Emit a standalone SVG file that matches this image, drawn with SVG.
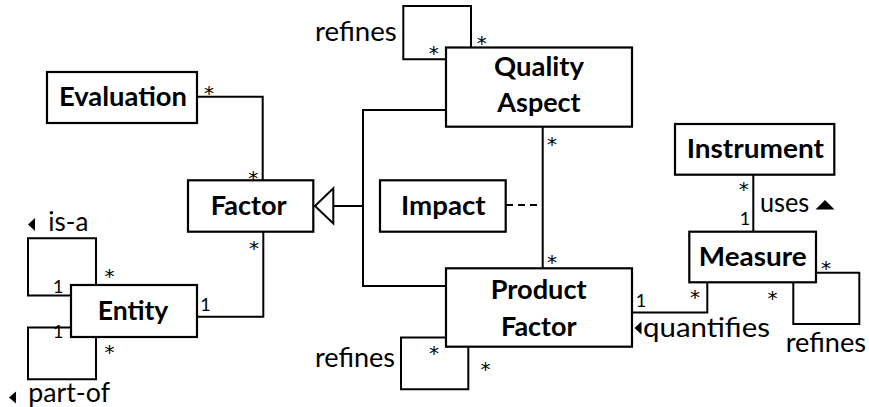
<svg xmlns="http://www.w3.org/2000/svg" width="869" height="407" viewBox="0 0 869 407">
<style>
.box{fill:#fff;stroke:#000;stroke-width:2.2}
.ln{fill:none;stroke:#000;stroke-width:2}
.dash{fill:none;stroke:#000;stroke-width:2;stroke-dasharray:7,5}
.nm{font-family:Lato,"Open Sans",sans-serif;font-weight:bold;font-size:26px;text-anchor:middle;fill:#000}
.lb{font-family:Lato,"Open Sans",sans-serif;font-size:26px;fill:#000}
.m{font-family:Lato,"Open Sans",sans-serif;font-size:18px;text-anchor:middle;fill:#000}
.s{font-family:"DejaVu Sans",sans-serif;font-size:20px;text-anchor:middle;fill:#000}
.tri{fill:#000;stroke:none}
</style>
<rect width="869" height="407" fill="#fff"/>
<g id="connectors">
<polyline class="ln" points="197,96.7 262.7,96.7 262.7,180"/>
<polyline class="ln" points="197,316.7 263.3,316.7 263.3,232"/>
<polyline class="ln" points="96,285 96,238.3 28,238.3 28,295.5 71,295.5"/>
<polyline class="ln" points="71,327.5 28,327.5 28,379.3 96,379.3 96,337"/>
<polyline class="ln" points="471,47.5 471,6 403.3,6 403.3,59.3 446,59.3"/>
<polyline class="ln" points="468.3,347 468.3,389.3 401,389.3 401,337.5 446,337.5"/>
<polyline class="ln" points="446,110 363,110 363,286 446,286"/>
<line class="ln" x1="333.3" y1="206" x2="363" y2="206"/>
<polygon points="315,206 333.3,188.3 333.3,223.5" fill="#fff" stroke="#000" stroke-width="2"/>
<line class="ln" x1="542.7" y1="127" x2="542.7" y2="268"/>
<line class="dash" x1="506" y1="205" x2="542.7" y2="205"/>
<line class="ln" x1="753.3" y1="175" x2="753.3" y2="231.7"/>
<polyline class="ln" points="632,312.5 707.3,312.5 707.3,282"/>
<polyline class="ln" points="816,272.7 859.3,272.7 859.3,324 793.3,324 793.3,282"/>
</g>
<g id="Evaluation"><rect class="box" x="47" y="72" width="150" height="51"/><text class="nm" x="123" y="106" textLength="128" lengthAdjust="spacingAndGlyphs">Evaluation</text></g>
<g id="Factor"><rect class="box" x="188" y="180.3" width="125.3" height="51.4"/><text class="nm" x="248.7" y="215" textLength="76" lengthAdjust="spacingAndGlyphs">Factor</text></g>
<g id="Entity"><rect class="box" x="71" y="285" width="126" height="52"/><text class="nm" x="133" y="320" textLength="70.6" lengthAdjust="spacingAndGlyphs">Entity</text></g>
<g id="Impact"><rect class="box" x="380" y="180.3" width="125.7" height="51.4"/><text class="nm" x="443.3" y="215" textLength="84.7" lengthAdjust="spacingAndGlyphs">Impact</text></g>
<g id="QualityAspect"><rect class="box" x="446" y="47.5" width="186" height="79.2"/><text class="nm" x="539" y="76" textLength="90" lengthAdjust="spacingAndGlyphs">Quality</text><text class="nm" x="539" y="111.7" textLength="83.3" lengthAdjust="spacingAndGlyphs">Aspect</text></g>
<g id="ProductFactor"><rect class="box" x="446" y="268.3" width="186" height="78.4"/><text class="nm" x="538.7" y="299" textLength="96" lengthAdjust="spacingAndGlyphs">Product</text><text class="nm" x="538.8" y="335.7" textLength="75.7" lengthAdjust="spacingAndGlyphs">Factor</text></g>
<g id="Instrument"><rect class="box" x="675" y="124" width="159.3" height="50.7"/><text class="nm" x="755.3" y="157.7" textLength="137.3" lengthAdjust="spacingAndGlyphs">Instrument</text></g>
<g id="Measure"><rect class="box" x="689.3" y="231.7" width="126.7" height="50.6"/><text class="nm" x="752.7" y="266" textLength="107.7" lengthAdjust="spacingAndGlyphs">Measure</text></g>
<g id="labels">
<text class="lb" x="315" y="41" textLength="81.7" lengthAdjust="spacingAndGlyphs">refines</text>
<text class="lb" x="315" y="366.7" textLength="80" lengthAdjust="spacingAndGlyphs">refines</text>
<text class="lb" x="785.7" y="351.7" textLength="80.3" lengthAdjust="spacingAndGlyphs">refines</text>
<text class="lb" x="643" y="336.7" textLength="127" lengthAdjust="spacingAndGlyphs">quantifies</text>
<text class="lb" x="760" y="211.7" textLength="49.3" lengthAdjust="spacingAndGlyphs">uses</text>
<text class="lb" x="48.3" y="230.7" textLength="40" lengthAdjust="spacingAndGlyphs">is-a</text>
<text class="lb" x="28.3" y="401.7" textLength="81.7" lengthAdjust="spacingAndGlyphs">part-of</text>
<polygon class="tri" points="28,224.5 35,218 35,231"/>
<polygon class="tri" points="9,397.5 16,391.5 16,403.5"/>
<polygon class="tri" points="634.5,328 641.5,321.5 641.5,334.5"/>
<polygon class="tri" points="815.5,209.5 834.5,209.5 825,200"/>
</g>
<g id="multiplicities">
<text class="s" x="209" y="100.3">*</text>
<text class="s" x="253.3" y="185.3">*</text>
<text class="s" x="254" y="255.3">*</text>
<text class="m" x="205.5" y="310.7">1</text>
<text class="s" x="109.5" y="283">*</text>
<text class="m" x="58.3" y="293.3">1</text>
<text class="m" x="58.3" y="338.3">1</text>
<text class="s" x="109.5" y="359.3">*</text>
<text class="s" x="433.8" y="60.3">*</text>
<text class="s" x="481.7" y="50.3">*</text>
<text class="s" x="552" y="151">*</text>
<text class="s" x="552" y="269">*</text>
<text class="s" x="434" y="359.5">*</text>
<text class="s" x="485.5" y="375.8">*</text>
<text class="s" x="743.7" y="196.2">*</text>
<text class="m" x="745" y="225">1</text>
<text class="m" x="641" y="306.7">1</text>
<text class="s" x="695" y="304.3">*</text>
<text class="s" x="826" y="274.5">*</text>
<text class="s" x="772.5" y="304.5">*</text>
</g>
</svg>
